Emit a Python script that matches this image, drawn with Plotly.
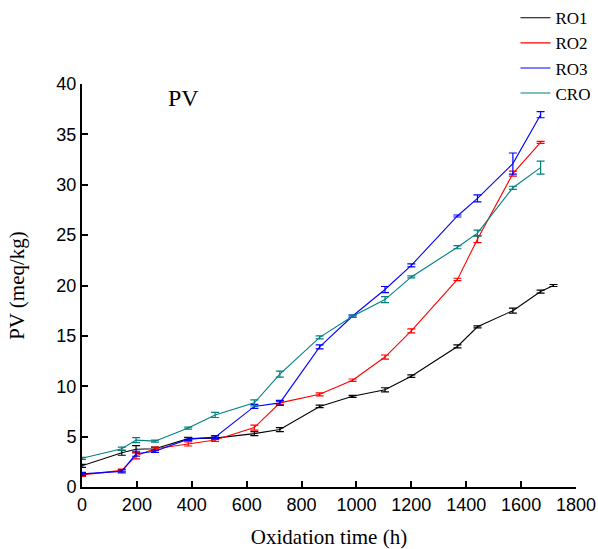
import plotly.graph_objects as go

# ---- data ----
time_ro1 = [0, 145, 197, 266, 387, 485, 628, 721, 866, 986, 1104, 1200, 1368, 1441, 1570, 1671, 1718]
time_all = [0, 145, 197, 266, 387, 485, 628, 721, 866, 986, 1104, 1200, 1368, 1441, 1570, 1671]

ro1 = [2.1, 3.4, 3.75, 3.8, 4.8, 4.85, 5.3, 5.7, 8.0, 9.0, 9.65, 11.0, 13.95, 15.9, 17.5, 19.4, 20.0]
ro1_err = [0.15, 0.25, 0.35, 0.15, 0.12, 0.1, 0.2, 0.2, 0.12, 0.1, 0.2, 0.12, 0.15, 0.1, 0.25, 0.15, 0.1]

ro2 = [1.2, 1.65, 3.1, 3.8, 4.27, 4.67, 5.9, 8.35, 9.2, 10.6, 12.9, 15.5, 20.6, 24.6, 31.1, 34.2]
ro2_err = [0.15, 0.12, 0.3, 0.15, 0.2, 0.15, 0.25, 0.15, 0.15, 0.12, 0.2, 0.2, 0.12, 0.35, 0.25, 0.1]

ro3 = [1.3, 1.55, 3.3, 3.55, 4.75, 4.95, 8.0, 8.35, 13.9, 16.97, 19.6, 22.0, 26.9, 28.65, 32.1, 36.95]
ro3_err = [0.15, 0.15, 0.25, 0.12, 0.15, 0.15, 0.2, 0.25, 0.2, 0.1, 0.3, 0.15, 0.1, 0.35, 1.05, 0.3]

cro = [2.85, 3.8, 4.65, 4.55, 5.85, 7.15, 8.35, 11.2, 14.85, 16.95, 18.6, 20.85, 23.8, 25.2, 29.7, 31.7]
cro_err = [0.1, 0.15, 0.25, 0.1, 0.1, 0.25, 0.3, 0.3, 0.15, 0.1, 0.3, 0.1, 0.15, 0.3, 0.15, 0.65]

series = [
    ("RO1", time_ro1, ro1, ro1_err, "#000000"),
    ("RO2", time_all, ro2, ro2_err, "#ff0000"),
    ("RO3", time_all, ro3, ro3_err, "#0000ff"),
    ("CRO", time_all, cro, cro_err, "#008080"),
]

serif = "Liberation Serif, Times New Roman, serif"
sans = "Liberation Sans, Arial, sans-serif"

fig = go.Figure()
for name, xs, ys, es, col in series:
    fig.add_trace(go.Scatter(
        x=xs, y=ys, name=name, mode="lines",
        line=dict(color=col, width=1.1),
        error_y=dict(type="data", array=es, visible=True, color=col, thickness=1.2, width=4),
        cliponaxis=False,
    ))

fig.update_layout(
    width=598, height=549,
    margin=dict(l=82, r=22, t=84, b=62, autoexpand=False),
    paper_bgcolor="white", plot_bgcolor="white",
    showlegend=True,
    legend=dict(x=0.862, y=1.208, xref="container", yref="paper", xanchor="left", yanchor="top",
                font=dict(family=serif, size=17, color="black"),
                bgcolor="rgba(0,0,0,0)", tracegroupgap=0),
    annotations=[dict(text="PV", x=0.205, y=0.965, xref="paper", yref="paper",
                      xanchor="center", yanchor="middle", showarrow=False,
                      font=dict(family=serif, size=24, color="black"))],
)
fig.update_xaxes(
    range=[0, 1800], tickvals=[0, 200, 400, 600, 800, 1000, 1200, 1400, 1600, 1800],
    showline=True, linecolor="black", linewidth=2, mirror=False,
    ticks="inside", ticklen=6, tickwidth=1.5, tickcolor="black",
    showgrid=False, zeroline=False, automargin=False,
    tickfont=dict(family=sans, size=18, color="black"),
    title=dict(text="Oxidation time (h)", font=dict(family=serif, size=21, color="black"), standoff=16),
)
fig.update_yaxes(
    range=[0, 40], tickvals=[0, 5, 10, 15, 20, 25, 30, 35, 40],
    showline=True, linecolor="black", linewidth=2, mirror=False,
    ticks="inside", ticklen=6, tickwidth=1.5, tickcolor="black",
    showgrid=False, zeroline=False, automargin=False,
    tickfont=dict(family=sans, size=18, color="black"),
    title=dict(text="PV (meq/kg)", font=dict(family=serif, size=21, color="black"), standoff=26),
)

fig.write_html("out.html", config={"displayModeBar": False},
               post_script="document.body.style.margin='0';")
